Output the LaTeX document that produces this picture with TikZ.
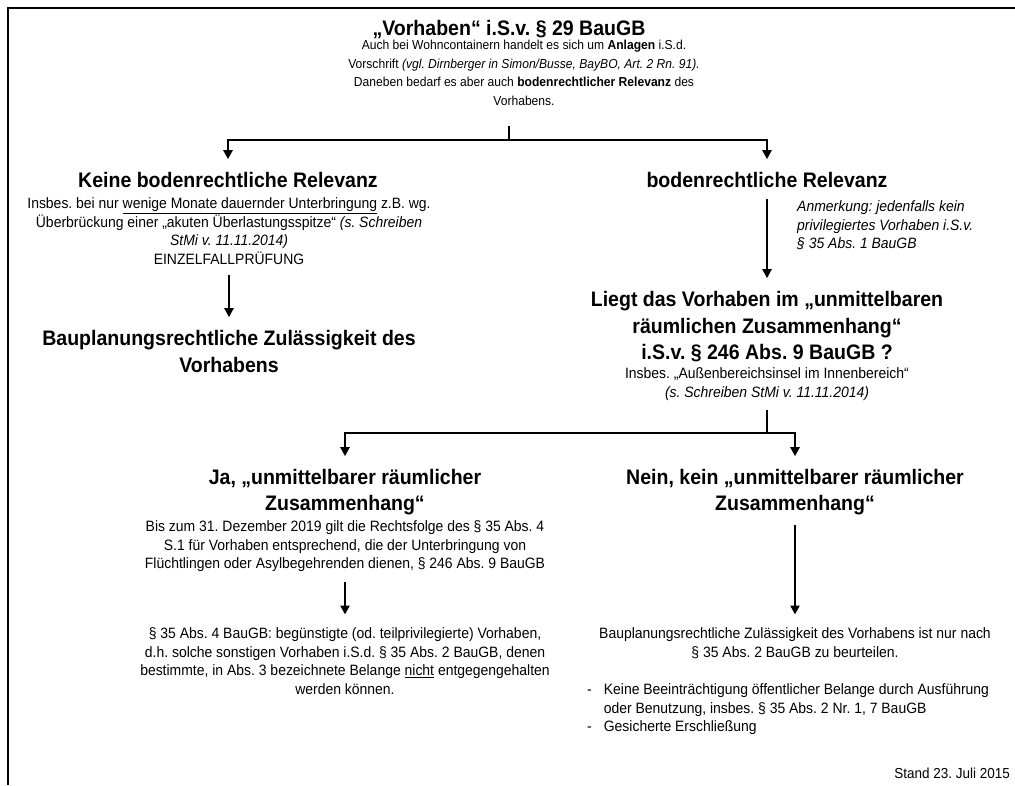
\documentclass[tikz,border=0pt]{standalone}
\usepackage{fontspec}
\setmainfont{Liberation Sans}[FakeStretch=0.93]
\usetikzlibrary{arrows.meta,
                positioning}
\frenchspacing

\begin{document}
\begin{tikzpicture}[
x = 1pt, y = -1pt,
            > = {Triangle[length=9pt, width=9pt]},
     H/.style = {font=\fontsize{21}{26}\selectfont\bfseries, align=center,
                 inner sep=0pt, anchor=north},
     B/.style = {font=\fontsize{15}{18.5}\selectfont, align=center,
                 inner sep=0pt, anchor=north},
     L/.style = {line width=2.5pt},
     A/.style = {L, ->, shorten <=10.5pt, shorten >=13pt}
                    ]
\useasboundingbox (0,0) rectangle (1015,785);
\draw[line width=2pt] (1015,8) -- (8,8) -- (8,785);
% Vorhaben
\node (title) [H] at (509,20.2) {„Vorhaben“ i.S.v. § 29 BauGB};
\node (ttxt) [B, font=\fontsize{13}{18.5}\selectfont] at (524,40.2)
      {Auch bei Wohncontainern handelt es sich um \textbf{Anlagen} i.S.d.\\
       Vorschrift \textit{(vgl. Dirnberger in Simon/Busse, BayBO, Art. 2 Rn. 91).}\\
       Daneben bedarf es aber auch \textbf{bodenrechtlicher Relevanz} des\\
       Vorhabens.};
% linke Seite
\node (nrel) [H] at (228,172.2) {Keine bodenrechtliche Relevanz};
\node (nreltxt) [B] at (229,197.5)
      {Insbes. bei nur \underline{wenige Monate dauernder Unterbringung} z.B. wg.\\
       Überbrückung einer „akuten Überlastungsspitze“ \textit{(s. Schreiben}\\
       \textit{StMi v. 11.11.2014)}\\
       EINZELFALLPRÜFUNG};
\node (nrelres) [H, font=\fontsize{21}{27}\selectfont\bfseries] at (229,330.2)
      {Bauplanungsrechtliche Zulässigkeit des\\ Vorhabens};
% rechte Seite
\node (rel) [H] at (767,172.2) {bodenrechtliche Relevanz};
\node (note) [B, anchor=north west, align=left, font=\fontsize{15}{18.5}\selectfont\itshape]
      at (797,200.5)
      {Anmerkung: jedenfalls kein\\ privilegiertes Vorhaben i.S.v.\\ § 35 Abs. 1 BauGB};
\node (q) [H, font=\fontsize{21}{26.5}\selectfont\bfseries] at (767,291.2)
      {Liegt das Vorhaben im „unmittelbaren\\ räumlichen Zusammenhang“\\
       i.S.v. § 246 Abs. 9 BauGB ?};
\node (qtxt) [B] at (767,367.5)
      {Insbes. „Außenbereichsinsel im Innenbereich“\\
       \textit{(s. Schreiben StMi v. 11.11.2014)}};
% Ja
\node (ja) [H, font=\fontsize{21}{25.5}\selectfont\bfseries] at (345,469.2)
      {Ja, „unmittelbarer räumlicher\\ Zusammenhang“};
\node (jatxt) [B] at (345,520.5)
      {Bis zum 31. Dezember 2019 gilt die Rechtsfolge des § 35 Abs. 4\\
       S.1 für Vorhaben entsprechend, die der Unterbringung von\\
       Flüchtlingen oder Asylbegehrenden dienen, § 246 Abs. 9 BauGB};
\node (jares) [B] at (345,627.5)
      {§ 35 Abs. 4 BauGB: begünstigte (od. teilprivilegierte) Vorhaben,\\
       d.h. solche sonstigen Vorhaben i.S.d. § 35 Abs. 2 BauGB, denen\\
       bestimmte, in Abs. 3 bezeichnete Belange \underline{nicht} entgegengehalten\\
       werden können.};
% Nein
\node (nein) [H, font=\fontsize{21}{25.5}\selectfont\bfseries] at (795,469.2)
      {Nein, kein „unmittelbarer räumlicher\\ Zusammenhang“};
\node (neinres) [B] at (795,627.5)
      {Bauplanungsrechtliche Zulässigkeit des Vorhabens ist nur nach\\
       § 35 Abs. 2 BauGB zu beurteilen.};
\node (list) [B, anchor=north west, align=left] at (587,681.5)
      {\begin{tabular}{@{}l@{\hspace{12pt}}l@{}}
       - & Keine Beeinträchtigung öffentlicher Belange durch Ausführung\\
         & oder Benutzung, insbes. § 35 Abs. 2 Nr. 1, 7 BauGB\\
       - & Gesicherte Erschließung
       \end{tabular}};
\node (stand) [anchor=base east, inner sep=0pt, font=\fontsize{14.5}{16}\selectfont]
      at (1010,778.2) {Stand 23. Juli 2015};
%
\coordinate (s1) at (509,140);
\coordinate (s2) at (767,433);
\draw[L, shorten <=20pt]  (s1 |- ttxt.south) -- (s1);
\draw[A, shorten <=0pt]   (s1) -| (nrel.north);
\draw[A, shorten <=0pt]   (s1) -| (rel.north);
\draw[A]  (nreltxt.south) -- (nrelres.north);
\draw[A]  (rel.south) -- (q.north);
\draw[L, shorten <=10pt]  (qtxt.south) -- (s2);
\draw[A, shorten <=0pt]   (s2) -| (ja.north);
\draw[A, shorten <=0pt]   (s2) -| (nein.north);
\draw[A]  (jatxt.south) -- (jares.north);
\draw[A]  (nein.south) -- (neinres.north);
\end{tikzpicture}
\end{document}
